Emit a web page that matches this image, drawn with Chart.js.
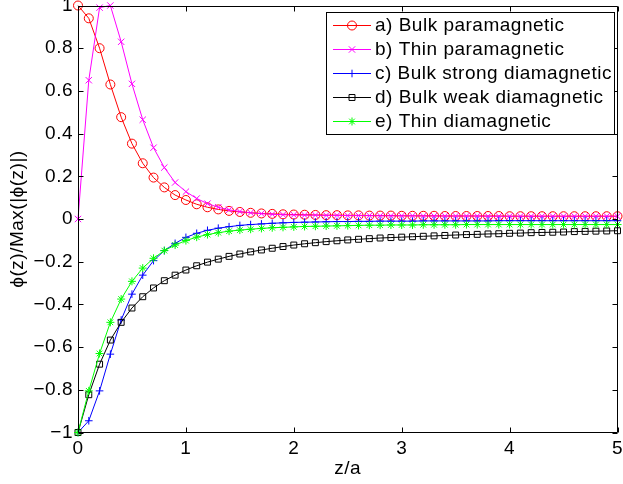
<!DOCTYPE html>
<html>
<head>
<meta charset="utf-8">
<title>phi(z) profiles</title>
<script src="https://cdn.jsdelivr.net/npm/chart.js@4/dist/chart.umd.min.js"></script>
<style>
    html, body { margin: 0; padding: 0; background: #fff; overflow: hidden; }
    #wrap { width: 623px; height: 484px; }
</style>
</head>
<body>
<div id="wrap"><canvas id="chartCanvas" width="623" height="484"></canvas></div>
<script>
// Data

var zValues = [0, 0.1, 0.2, 0.3, 0.4, 0.5, 0.6, 0.7, 0.8, 0.9,
    1, 1.1, 1.2, 1.3, 1.4, 1.5, 1.6, 1.7, 1.8, 1.9,
    2, 2.1, 2.2, 2.3, 2.4, 2.5, 2.6, 2.7, 2.8, 2.9,
    3, 3.1, 3.2, 3.3, 3.4, 3.5, 3.6, 3.7, 3.8, 3.9,
    4, 4.1, 4.2, 4.3, 4.4, 4.5, 4.6, 4.7, 4.8, 4.9, 5];

var bulkPara = [1.000, 0.940, 0.800, 0.630, 0.477, 0.353, 0.261, 0.194, 0.148, 0.112,
    0.089, 0.069, 0.055, 0.045, 0.038, 0.033, 0.029, 0.026, 0.024, 0.022,
    0.021, 0.020, 0.019, 0.018, 0.018, 0.017, 0.017, 0.016, 0.016, 0.016,
    0.015, 0.015, 0.015, 0.015, 0.014, 0.014, 0.014, 0.014, 0.014, 0.014,
    0.013, 0.013, 0.013, 0.013, 0.013, 0.013, 0.013, 0.013, 0.013, 0.013, 0.013];

var thinPara = [0.000, 0.650, 0.990, 1.000, 0.830, 0.633, 0.465, 0.334, 0.241, 0.171,
    0.128, 0.096, 0.072, 0.055, 0.043, 0.035, 0.029, 0.025, 0.022, 0.020,
    0.019, 0.018, 0.018, 0.017, 0.017, 0.016, 0.016, 0.016, 0.015, 0.015,
    0.015, 0.015, 0.014, 0.014, 0.014, 0.014, 0.014, 0.014, 0.013, 0.013,
    0.013, 0.013, 0.013, 0.013, 0.013, 0.013, 0.013, 0.013, 0.013, 0.013, 0.013];

var bulkStrongDia = [-1.000, -0.945, -0.805, -0.633, -0.473, -0.352, -0.263, -0.195, -0.148, -0.114,
    -0.086, -0.067, -0.053, -0.043, -0.036, -0.030, -0.026, -0.023, -0.020, -0.018,
    -0.016, -0.015, -0.014, -0.013, -0.012, -0.012, -0.011, -0.011, -0.010, -0.010,
    -0.010, -0.010, -0.009, -0.009, -0.009, -0.009, -0.009, -0.009, -0.009, -0.008,
    -0.008, -0.008, -0.008, -0.008, -0.008, -0.008, -0.008, -0.008, -0.008, -0.008, -0.008];

var bulkWeakDia = [-1.000, -0.823, -0.680, -0.567, -0.484, -0.417, -0.364, -0.323, -0.289, -0.263,
    -0.239, -0.219, -0.202, -0.188, -0.175, -0.164, -0.154, -0.145, -0.137, -0.129,
    -0.122, -0.116, -0.111, -0.106, -0.102, -0.098, -0.095, -0.092, -0.089, -0.087,
    -0.085, -0.083, -0.081, -0.079, -0.077, -0.075, -0.073, -0.072, -0.070, -0.069,
    -0.067, -0.066, -0.064, -0.063, -0.062, -0.061, -0.059, -0.058, -0.057, -0.056, -0.055];

var thinDia = [-1.000, -0.805, -0.630, -0.484, -0.375, -0.292, -0.230, -0.184, -0.148, -0.122,
    -0.101, -0.085, -0.073, -0.064, -0.057, -0.052, -0.048, -0.044, -0.041, -0.039,
    -0.037, -0.035, -0.034, -0.033, -0.032, -0.031, -0.030, -0.029, -0.029, -0.028,
    -0.028, -0.028, -0.027, -0.027, -0.027, -0.027, -0.026, -0.026, -0.026, -0.026,
    -0.026, -0.026, -0.026, -0.026, -0.026, -0.026, -0.026, -0.026, -0.026, -0.026, -0.026];

var seriesLabels = ['a) Bulk paramagnetic', 'b) Thin paramagnetic', 'c) Bulk strong diamagnetic',
    'd) Bulk weak diamagnetic', 'e) Thin diamagnetic'];

var xTicks = [0, 1, 2, 3, 4, 5];
var yTicks = [-1, -0.8, -0.6, -0.4, -0.2, 0, 0.2, 0.4, 0.6, 0.8, 1];

var FONT = '"Liberation Sans", Arial, Helvetica, sans-serif';

function toPoints(values) {
    return zValues.map(function (z, i) {
        return {x: z, y: values[i]};
    });
}

function makeDataset(label, values, color, style, radius, order) {
    return {
        label: label,
        data: toPoints(values),
        borderColor: color,
        backgroundColor: 'rgba(0,0,0,0)',
        borderWidth: 1,
        pointStyle: style,
        pointRadius: radius,
        pointBorderColor: color,
        pointBackgroundColor: 'rgba(0,0,0,0)',
        pointBorderWidth: 1,
        tension: 0,
        clip: false,
        order: order
    };
}

function formatTick(v) {
    var n = +Number(v).toFixed(1);
    if (n === 0) return '0';
    return (n < 0 ? '\u2212' : '') + String(Math.abs(n));
}

// Box around the axes with inward ticks (MATLAB style)
var axesBox = {
    id: 'axesBox',
    beforeDraw: function (chart) {
        chart.ctx.letterSpacing = '0.5px';
    },
    afterDatasetsDraw: function (chart) {
        var ctx = chart.ctx;
        var a = chart.chartArea;
        var xs = chart.scales.x;
        var ys = chart.scales.y;
        var l = Math.round(a.left) + 0.5, r = Math.round(a.right) - 0.5;
        var t = Math.round(a.top) + 0.5, b = Math.round(a.bottom) - 0.5;
        var len = 5;
        ctx.save();
        ctx.strokeStyle = '#000';
        ctx.lineWidth = 1;
        ctx.beginPath();
        ctx.rect(l, t, r - l, b - t);
        xTicks.forEach(function (v) {
            var px = Math.round(xs.getPixelForValue(v)) + 0.5;
            ctx.moveTo(px, b); ctx.lineTo(px, b - len);
            ctx.moveTo(px, t); ctx.lineTo(px, t + len);
        });
        yTicks.forEach(function (v) {
            var py = Math.round(ys.getPixelForValue(v)) + 0.5;
            ctx.moveTo(l, py); ctx.lineTo(l + len, py);
            ctx.moveTo(r, py); ctx.lineTo(r - len, py);
        });
        ctx.stroke();
        ctx.restore();
    }
};

// Legend box in the upper right corner of the axes
var boxLegend = {
    id: 'boxLegend',
    afterDraw: function (chart) {
        var ctx = chart.ctx;
        var x0 = 326.5, y0 = 12.5, w = 288, h = 122;
        var rowY = [25, 49, 73, 97, 121];
        ctx.save();
        ctx.letterSpacing = '0.5px';
        ctx.fillStyle = '#fff';
        ctx.fillRect(x0, y0, w, h);
        ctx.strokeStyle = '#000';
        ctx.lineWidth = 1;
        ctx.strokeRect(x0, y0, w, h);
        chart.data.datasets.forEach(function (ds, i) {
            var y = rowY[i] + 0.5;
            ctx.strokeStyle = ds.borderColor;
            ctx.lineWidth = 1;
            ctx.beginPath();
            ctx.moveTo(333, y);
            ctx.lineTo(371, y);
            ctx.stroke();
            ctx.fillStyle = 'rgba(0,0,0,0)';
            Chart.helpers.drawPoint(ctx, {
                pointStyle: ds.pointStyle,
                radius: ds.pointRadius,
                borderWidth: 1,
                rotation: 0
            }, 352, y);
            ctx.fillStyle = '#000';
            ctx.font = '19px ' + FONT;
            ctx.textAlign = 'left';
            ctx.textBaseline = 'middle';
            ctx.fillText(ds.label, 375, rowY[i] + 1);
        });
        ctx.restore();
    }
};

function drawGraph(chartContextId) {
    var ctx = document.getElementById(chartContextId);

    var chart = new Chart(ctx, {
        type: 'line',
        data: {
            datasets: [
                makeDataset(seriesLabels[0], bulkPara, '#ff0000', 'circle', 4.5, 5),
                makeDataset(seriesLabels[1], thinPara, '#ff00ff', 'crossRot', 4.5, 4),
                makeDataset(seriesLabels[2], bulkStrongDia, '#0000ff', 'cross', 3.8, 3),
                makeDataset(seriesLabels[3], bulkWeakDia, '#000000', 'rect', 4.2, 2),
                makeDataset(seriesLabels[4], thinDia, '#00ff00', 'star', 4, 1)
            ]
        },
        plugins: [axesBox, boxLegend],
        options: {
            responsive: false,
            animation: false,
            events: [],
            layout: {padding: {top: 4, right: 2, left: 0, bottom: 0}},
            plugins: {
                legend: {display: false},
                tooltip: {enabled: false},
                title: {display: false}
            },
            scales: {
                x: {
                    type: 'linear',
                    min: 0,
                    max: 5,
                    afterBuildTicks: function (scale) {
                        scale.ticks = xTicks.map(function (v) { return {value: v}; });
                    },
                    grid: {display: false, drawTicks: false},
                    border: {display: false},
                    ticks: {
                        color: '#000',
                        padding: 5,
                        maxRotation: 0,
                        autoSkip: false,
                        font: {family: FONT, size: 19},
                        callback: function (v) { return formatTick(v); }
                    },
                    title: {
                        display: true,
                        text: 'z/a',
                        color: '#000',
                        font: {family: FONT, size: 19},
                        padding: {top: 0, bottom: 4}
                    },
                    afterFit: function (scale) {
                        scale.height = 51.5;
                        scale.paddingLeft = 0;
                        scale.paddingRight = 0;
                    }
                },
                y: {
                    type: 'linear',
                    min: -1,
                    max: 1,
                    afterBuildTicks: function (scale) {
                        scale.ticks = yTicks.map(function (v) { return {value: v}; });
                    },
                    grid: {display: false, drawTicks: false},
                    border: {display: false},
                    ticks: {
                        color: '#000',
                        padding: 5,
                        autoSkip: false,
                        font: {family: FONT, size: 19},
                        callback: function (v) { return formatTick(v); }
                    },
                    title: {
                        display: true,
                        text: '\u03d5(z)/Max(|\u03d5(z)|)',
                        color: '#000',
                        font: {family: FONT, size: 19},
                        padding: {top: 6, bottom: 0}
                    },
                    afterFit: function (scale) {
                        scale.width = 78;
                        scale.paddingTop = 0;
                        scale.paddingBottom = 0;
                    }
                }
            }
        }
    });

    return chart;
}

drawGraph('chartCanvas');
</script>
</body>
</html>
